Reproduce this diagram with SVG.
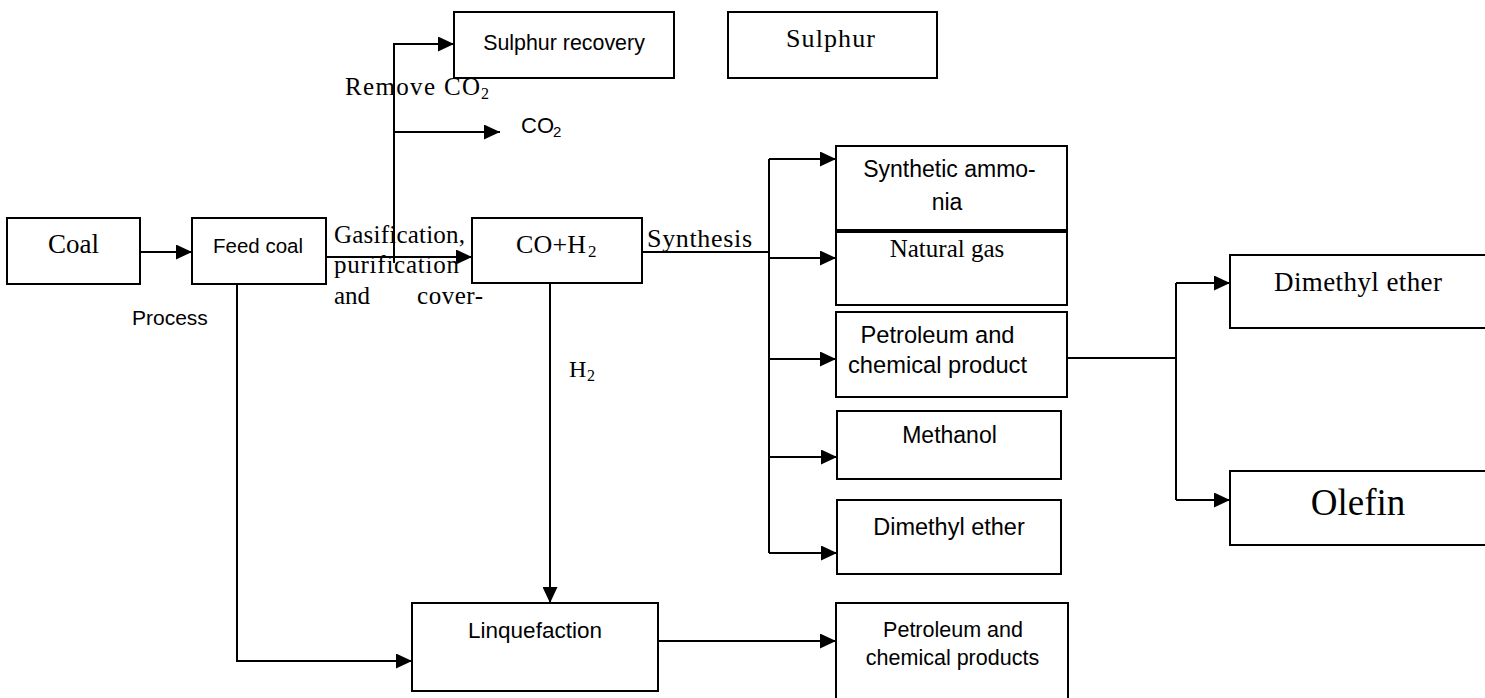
<svg xmlns="http://www.w3.org/2000/svg" width="1485" height="698" viewBox="0 0 1485 698">
<defs>
<marker id="arr" markerUnits="userSpaceOnUse" markerWidth="16" markerHeight="15" refX="16" refY="7.5" orient="auto">
<path d="M0,0 L16,7.5 L0,15 z" fill="#000"/>
</marker>
<style>
.box{fill:#fff;stroke:#000;stroke-width:2}
.ln{fill:none;stroke:#000;stroke-width:2}
.ar{fill:none;stroke:#000;stroke-width:2;marker-end:url(#arr)}
.sf{font-family:"Liberation Serif","Times New Roman",serif;fill:#000}
.ss{font-family:"Liberation Sans",Arial,sans-serif;fill:#000}
.m{text-anchor:middle}
</style>
</defs>
<rect width="1485" height="698" fill="#fff"/>
<g id="connectors">
<path class="ar" d="M140,252 H192"/>
<path class="ar" d="M326,257 H472"/>
<path class="ar" d="M394,263 V44 H454"/>
<path class="ar" d="M394,132 H500"/>
<path class="ln" d="M642,252 H769"/>
<path class="ln" d="M769,159 V553"/>
<path class="ar" d="M769,159 H836"/>
<path class="ar" d="M769,258 H836"/>
<path class="ar" d="M769,359 H836"/>
<path class="ar" d="M769,457 H837"/>
<path class="ar" d="M769,553 H837"/>
<path class="ar" d="M550,257 V603"/>
<path class="ar" d="M237,284 V661 H412"/>
<path class="ar" d="M658,641 H836"/>
<path class="ln" d="M1067,358 H1176"/>
<path class="ln" d="M1176,283 V500"/>
<path class="ar" d="M1176,283 H1230"/>
<path class="ar" d="M1176,500 H1230"/>
</g>
<g id="labels">
<text class="ss" x="132" y="325" font-size="21">Process</text>
<text class="sf" x="334" y="243" font-size="25" textLength="131">Gasification,</text>
<text class="sf" x="334" y="273" font-size="25" textLength="125">purification</text>
<text class="sf" x="334" y="304" font-size="25">and</text>
<text class="sf" x="417" y="304" font-size="25" textLength="66">cover-</text>
<text class="sf" x="345" y="95" font-size="25" textLength="135">Remove CO</text>
<text class="sf" x="481" y="99" font-size="16">2</text>
<text class="ss" x="521" y="133" font-size="22">CO</text>
<text class="ss" x="553" y="137" font-size="15">2</text>
<text class="sf" x="647" y="247" font-size="26" textLength="105">Synthesis</text>
<text class="sf" x="569" y="377" font-size="24">H</text>
<text class="sf" x="587" y="381" font-size="16">2</text>
</g>
<g id="coal"><rect class="box" x="7" y="218" width="133" height="66"/><text class="sf m" x="73.5" y="253" font-size="27">Coal</text></g>
<g id="feedcoal"><rect class="box" x="192" y="218" width="134" height="66"/><text class="ss m" x="258" y="253" font-size="20.5">Feed coal</text></g>
<g id="coh2"><rect class="box" x="472" y="218" width="170" height="65"/><text class="sf" x="516" y="253" font-size="26" textLength="70">CO+H</text><text class="sf" x="588" y="257" font-size="17">2</text></g>
<g id="sulphurrecovery"><rect class="box" x="454" y="12" width="220" height="66"/><text class="ss m" x="564" y="50" font-size="21.4">Sulphur recovery</text></g>
<g id="sulphur"><rect class="box" x="728" y="12" width="209" height="66"/><text class="sf" x="786" y="47" font-size="26" textLength="89">Sulphur</text></g>
<g id="ammonia"><rect class="box" x="836" y="146" width="231" height="84"/><text class="ss m" x="949.5" y="177" font-size="23">Synthetic ammo-</text><text class="ss m" x="947" y="210" font-size="23">nia</text></g>
<g id="naturalgas"><rect class="box" x="836" y="232" width="231" height="73"/><text class="sf m" x="947" y="257" font-size="25">Natural gas</text></g>
<g id="petroleum1"><rect class="box" x="836" y="312" width="231" height="85"/><text class="ss m" x="937.5" y="343" font-size="23.7">Petroleum and</text><text class="ss m" x="937.5" y="373" font-size="23.7">chemical product</text></g>
<g id="methanol"><rect class="box" x="837" y="411" width="224" height="68"/><text class="ss m" x="949.5" y="443" font-size="23">Methanol</text></g>
<g id="dme1"><rect class="box" x="837" y="500" width="224" height="74"/><text class="ss m" x="949" y="535" font-size="23.5">Dimethyl ether</text></g>
<g id="liquefaction"><rect class="box" x="412" y="603" width="246" height="88"/><text class="ss m" x="535" y="638" font-size="22.5">Linquefaction</text></g>
<g id="petroleum2"><rect class="box" x="836" y="603" width="232" height="105"/><text class="ss m" x="953" y="637" font-size="21.5">Petroleum and</text><text class="ss m" x="952.5" y="665" font-size="21.5">chemical products</text></g>
<g id="dme2"><rect class="box" x="1230" y="255" width="270" height="73"/><text class="sf" x="1274" y="291" font-size="27" textLength="168">Dimethyl ether</text></g>
<g id="olefin"><rect class="box" x="1230" y="471" width="270" height="74"/><text class="sf m" x="1358" y="515" font-size="37">Olefin</text></g>
</svg>
